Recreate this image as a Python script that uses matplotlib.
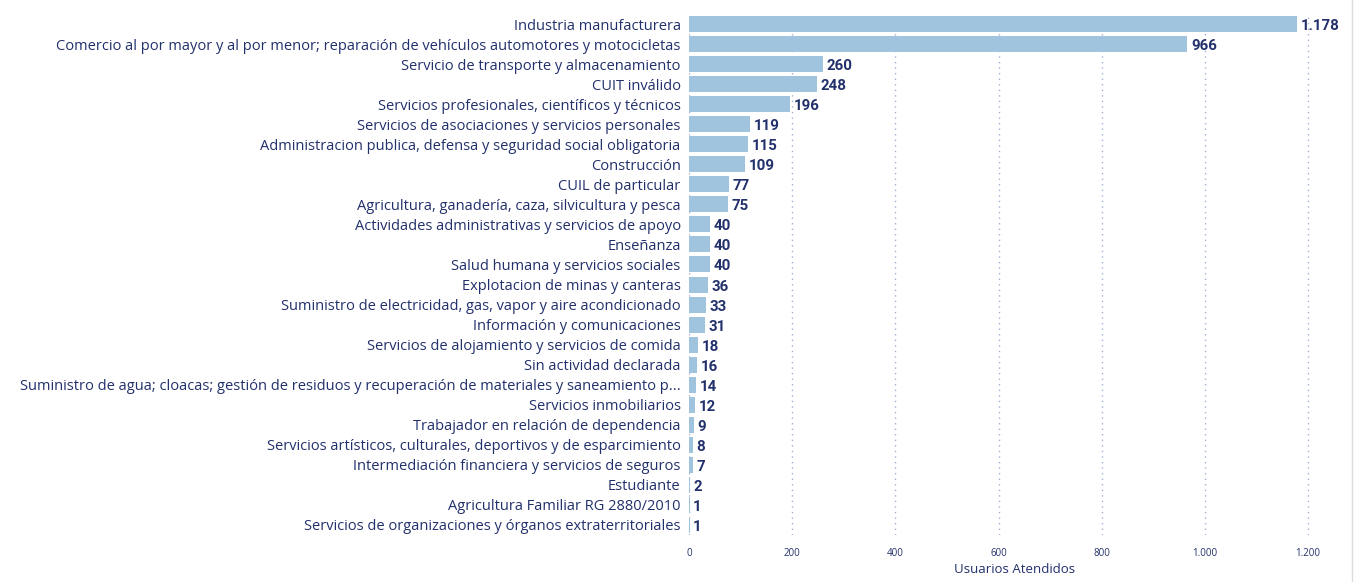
import matplotlib
matplotlib.use("Agg")
import matplotlib.pyplot as plt

categories = [
    "Industria manufacturera",
    "Comercio al por mayor y al por menor; reparación de vehículos automotores y motocicletas",
    "Servicio de transporte y almacenamiento",
    "CUIT inválido",
    "Servicios profesionales, científicos y técnicos",
    "Servicios de asociaciones y servicios personales",
    "Administracion publica, defensa y seguridad social obligatoria",
    "Construcción",
    "CUIL de particular",
    "Agricultura, ganadería, caza, silvicultura y pesca",
    "Actividades administrativas y servicios de apoyo",
    "Enseñanza",
    "Salud humana y servicios sociales",
    "Explotacion de minas y canteras",
    "Suministro de electricidad, gas, vapor y aire acondicionado",
    "Información y comunicaciones",
    "Servicios de alojamiento y servicios de comida",
    "Sin actividad declarada",
    "Suministro de agua; cloacas; gestión de residuos y recuperación de materiales y saneamiento p...",
    "Servicios inmobiliarios",
    "Trabajador en relación de dependencia",
    "Servicios artísticos, culturales, deportivos y de esparcimiento",
    "Intermediación financiera y servicios de seguros",
    "Estudiante",
    "Agricultura Familiar RG 2880/2010",
    "Servicios de organizaciones y órganos extraterritoriales",
]
values = [1178, 966, 260, 248, 196, 119, 115, 109, 77, 75, 40, 40, 40, 36, 33, 31, 18, 16, 14, 12, 9, 8, 7, 2, 1, 1]
xticks = [0, 200, 400, 600, 800, 1000, 1200]
xtick_labels = ["0", "200", "400", "600", "800", "1.000", "1.200"]

navy = "#22306b"
bar_color = "#a0c4de"

fig = plt.figure(figsize=(13.61, 5.82), dpi=100)
ax = fig.add_axes([689/1361, 1 - 535/582, (1340-689)/1361, (535-14)/582])

y = list(range(len(categories)))
ax.barh(y, values, height=0.8, color=bar_color, zorder=2)
ax.set_ylim(len(categories) - 0.5, -0.5)
ax.set_xlim(0, 1262)

ax.set_yticks(y)
ax.set_yticklabels(categories, fontsize=10.55, color=navy, family="Open Sans")
ax.set_xticks(xticks)
ax.set_xticklabels(xtick_labels, fontsize=7, color=navy, family="Open Sans")
ax.tick_params(axis="y", length=0, pad=6)
ax.tick_params(axis="x", length=0, pad=9)

for s in ax.spines.values():
    s.set_visible(False)
ax.grid(axis="x", linestyle=(0, (1, 3)), color="#a3afd4", linewidth=1, zorder=0)

for yi, v in zip(y, values):
    lbl = f"{v:,}".replace(",", ".")
    ax.text(v + 7, yi + 0.1, lbl, va="center", ha="left", fontsize=10.8,
            fontweight="bold", color=navy, family="Roboto")

ax.set_xlabel("Usuarios Atendidos", fontsize=9.5, color=navy, family="Open Sans", labelpad=3)

fig.add_artist(plt.Line2D([1352/1361, 1352/1361], [0, 1], color="#dcdcdc", lw=1))

fig.savefig("out.png", dpi=100)
